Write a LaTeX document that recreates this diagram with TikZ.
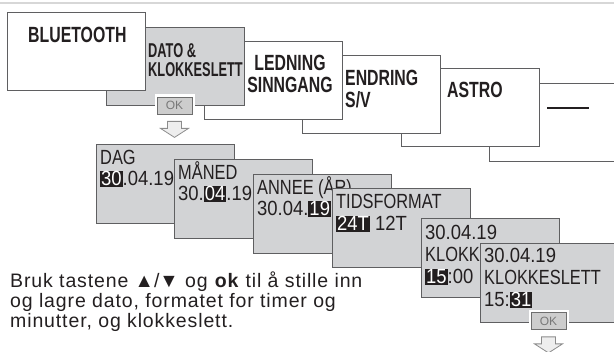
\documentclass[tikz,border=0pt]{standalone}
\usepackage{fontspec}
\setmainfont{Liberation Sans}
\newfontfamily\capsfont[FakeStretch=0.72]{Liberation Sans}
\newfontfamily\squeezefont[FakeStretch=0.64]{Liberation Sans}
\newfontfamily\boxfont[FakeStretch=0.8]{Liberation Sans}
\newfontfamily\digfont[FakeStretch=0.9]{Liberation Sans}
\newfontfamily\notefont[LetterSpace=4.5]{Liberation Sans}
\newfontfamily\symfont{Liberation Sans}
\usepackage{xcolor}
\usetikzlibrary{positioning}

\definecolor{inkblack}{RGB}{35,31,32}
\definecolor{edgegray}{RGB}{95,95,97}
\definecolor{boxgray}{RGB}{210,211,213}
\definecolor{keygray}{RGB}{205,205,205}
\definecolor{keyedge}{RGB}{110,110,110}
\definecolor{keytext}{RGB}{120,120,120}
\definecolor{arrowfill}{RGB}{238,238,238}
\definecolor{arrowedge}{RGB}{140,140,140}
\definecolor{rulegray}{RGB}{215,215,215}

%% black field behind the value being set
\newcommand\hlval[1]{{\setlength\fboxsep{1pt}\colorbox{inkblack}{\textcolor{white}{#1}}}}

\begin{document}
\begin{tikzpicture}[x=1pt, y=-1pt,
  menubox/.style={draw=edgegray, line width=1.2pt, fill=white, inner sep=0pt,
    minimum width=138pt, minimum height=78pt, anchor=north west},
  setbox/.style={menubox, fill=boxgray, minimum height=79pt},
  menulbl/.style={font=\capsfont\bfseries\fontsize{22}{24}\selectfont,
    text=inkblack, inner sep=0pt, anchor=base west},
  setlbl/.style={font=\boxfont\fontsize{20.5}{22}\selectfont,
    text=inkblack, inner sep=0pt, anchor=base west},
  notelbl/.style={font=\notefont\fontsize{19.5}{20}\selectfont,
    text=inkblack, inner sep=0pt, anchor=base west},
  okkey/.style={draw=keyedge, line width=0.8pt, fill=keygray, text=keytext,
    font=\fontsize{12}{12}\selectfont, minimum width=35pt, minimum height=17pt,
    inner sep=0pt, preaction={draw=white, line width=5pt}},
  downarrow/.style={draw=arrowedge, fill=arrowfill, line width=0.8pt}]
  \useasboundingbox (0,0) rectangle (614,352);
  \draw[rulegray, line width=1.5pt] (0,3) -- (614,3);

  %% Menu row, drawn right to left so the left boxes lie on top
  \node[menubox] (blank) at (489,83) {};
  \node[inner sep=0pt, anchor=west, text=inkblack] (blankdash) at (547,108) {\rule{42pt}{2.2pt}};
  \node[menubox] (astro) at (401,68) {};
  \node[menulbl] (astro-t) at (447,98) {ASTRO};
  \node[menubox] (endring) at (302,55) {};
  \node[menulbl] (endring-t1) at (345,86) {ENDRING};
  \node[menulbl] (endring-t2) at (345,108) {S/V};
  \node[menubox] (ledning) at (204,41) {};
  \node[menulbl, anchor=base] (ledning-t1) at (290,71) {LEDNING};
  \node[menulbl, anchor=base] (ledning-t2) at (290,93) {SINNGANG};
  \node[menubox, fill=boxgray] (dato) at (106,27) {};
  \node[menulbl, font=\squeezefont\bfseries\fontsize{20}{22}\selectfont] (dato-t1) at (148,58) {DATO \&};
  \node[menulbl, font=\squeezefont\bfseries\fontsize{20}{22}\selectfont] (dato-t2) at (148,77) {KLOKKESLETT};
  \node[menubox] (bt) at (7,12) {};
  \node[menulbl] (bt-t) at (28,43) {BLUETOOTH};

  \node[okkey] (ok1) at (174.5,105.5) {OK};
  \draw[downarrow, shift={(ok1.south)}]
    (-7,7) -- (7,7) -- (7,14) -- (14,14) -- (0,23) -- (-14,14) -- (-7,14) -- cycle;

  %% Setting screens, each one lies on top of the one before
  \node[setbox] (dag) at (96,144) {};
  \node[setlbl] (dag-t1) at (100,165) {DAG};
  \node[setlbl] (dag-t2) at (100,186) {\digfont\hlval{30}.04.19};
  \node[setbox] (maaned) at (174,159) {};
  \node[setlbl] (maaned-t1) at (178,180) {MÅNED};
  \node[setlbl] (maaned-t2) at (178,201) {\digfont 30.\hlval{04}.19};
  \node[setbox] (aar) at (253,174) {};
  \node[setlbl] (aar-t1) at (257,195) {ANNEE (ÅR)};
  \node[setlbl] (aar-t2) at (257,216) {\digfont 30.04.\hlval{19}};
  \node[setbox] (tidsf) at (332,188) {};
  \node[setlbl] (tidsf-t1) at (336,209) {TIDSFORMAT};
  \node[setlbl] (tidsf-t2) at (336,231) {\digfont\hlval{24T} 12T};
  \node[setbox] (time) at (421,218) {};
  \node[setlbl] (time-t1) at (425,240) {\digfont 30.04.19};
  \node[setlbl] (time-t2) at (425,262) {KLOKKESLETT};
  \node[setlbl] (time-t3) at (425,284) {\digfont\hlval{15}:00};
  \node[setbox] (minute) at (480,243) {};
  \node[setlbl] (minute-t1) at (484,263) {\digfont 30.04.19};
  \node[setlbl] (minute-t2) at (484,285) {KLOKKESLETT};
  \node[setlbl] (minute-t3) at (484,307) {\digfont 15:\hlval{31}};

  \node[okkey] (ok2) at (548.5,321) {OK};
  \draw[downarrow, shift={(ok2.south)}]
    (-7,7) -- (7,7) -- (7,14) -- (14,14) -- (0,23) -- (-14,14) -- (-7,14) -- cycle;

  %% Instruction text
  \node[notelbl] (note1) at (10,288) {Bruk tastene {\symfont▲/▼} og \textbf{ok} til å stille inn};
  \node[notelbl] (note2) at (10,308) {og lagre dato, formatet for timer og};
  \node[notelbl] (note3) at (10,328) {minutter, og klokkeslett.};
\end{tikzpicture}
\end{document}
